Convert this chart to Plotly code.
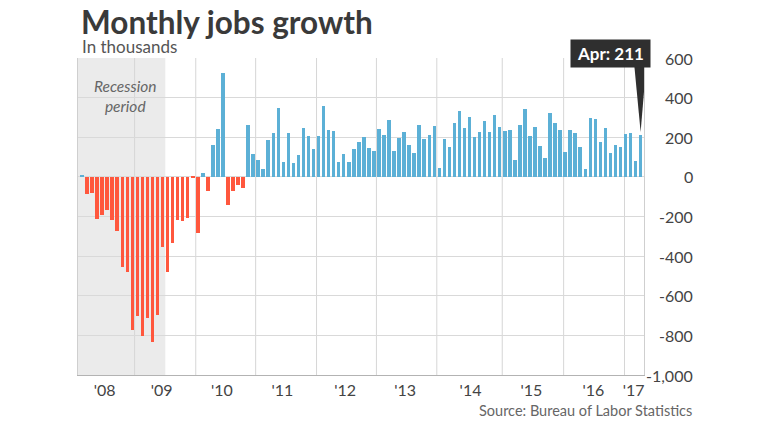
import plotly.graph_objects as go

# ---- data (thousands of jobs, monthly change, Jan 2008 .. Apr 2017) ----
jobs_2008 = [12, -88, -80, -215, -190, -168, -219, -271, -456, -481, -775, -703]
jobs_2009 = [-803, -710, -834, -698, -354, -478, -334, -219, -225, -210, -5, -281]
jobs_2010 = [19, -71, 161, 242, 525, -141, -71, -41, -56, 261, 117, 85]
jobs_2011 = [41, 188, 224, 347, 75, 224, 68, 108, 247, 207, 141, 207]
jobs_2012 = [359, 237, 232, 76, 114, 73, 142, 176, 202, 144, 131, 244]
jobs_2013 = [210, 286, 129, 197, 225, 161, 120, 261, 190, 212, 258, 46]
jobs_2014 = [190, 149, 273, 331, 246, 303, 200, 229, 281, 225, 312, 254]
jobs_2015 = [234, 237, 85, 261, 344, 205, 254, 154, 97, 322, 271, 237]
jobs_2016 = [124, 237, 224, 151, 41, 297, 290, 175, 249, 122, 163, 153]
jobs_2017 = [216, 219, 79, 211]

values = (jobs_2008 + jobs_2009 + jobs_2010 + jobs_2011 + jobs_2012 +
          jobs_2013 + jobs_2014 + jobs_2015 + jobs_2016 + jobs_2017)
month_index = list(range(len(values)))

year_labels = ["'08", "'09", "'10", "'11", "'12", "'13", "'14", "'15", "'16", "'17"]
year_label_pos = [4.5, 15.8, 27.8, 39.8, 52.3, 64.2, 77.2, 89.3, 101.6, 109.6]
year_grid_pos = [10.45, 22.6, 34.5, 46.6, 58.5, 70.5, 83.5, 95.7, 107.8]
y_ticks = [600, 400, 200, 0, -200, -400, -600, -800, -1000]
recession_end = 16.55
last_label = "Apr: 211"

BLUE = "#5cb0d6"
RED = "#ff573d"
colors = [BLUE if v >= 0 else RED for v in values]

# page geometry (pixels); the page body has an 8px margin
PAGE_W, PAGE_H, OFF = 768, 432, 8
L, R, T, B = 78, 644, 58, 375          # plot area in page pixels
X_RANGE = [-0.8, 111.67]

def px_x(p):
    return (p - L) / (R - L)

def px_y(p):
    return (B - p) / (B - T)

fig = go.Figure()
fig.add_trace(go.Bar(
    x=month_index, y=values, marker_color=colors, marker_line_width=0,
    width=0.7, hoverinfo="y", showlegend=False,
))

shapes = []
shapes.append(dict(type="rect", xref="x", yref="paper", x0=X_RANGE[0], x1=recession_end,
                   y0=0, y1=1, fillcolor="#ebebeb", line_width=0, layer="below"))
for gx in year_grid_pos:
    shapes.append(dict(type="line", xref="x", yref="paper", x0=gx, x1=gx, y0=0, y1=1,
                       line=dict(color="#d6d6d6", width=1), layer="below"))
lx, lv = month_index[-1], values[-1]
shapes.append(dict(type="path", xref="x", yref="y",
                   path=f"M {lx-1.25},560 L {lx+1.1},560 L {lx},{lv+16} Z",
                   fillcolor="#2f2f2f", line_width=0, layer="above"))

annotations = []
annotations.append(dict(text="<b>Monthly jobs growth</b>", xref="paper", yref="paper",
                        x=px_x(79), y=px_y(22), xanchor="left", yanchor="middle",
                        showarrow=False, font=dict(family="Lato", size=31.5, color="#3a3a3a", weight=900)))
annotations.append(dict(text="In thousands", xref="paper", yref="paper",
                        x=px_x(79.5), y=px_y(46.5), xanchor="left", yanchor="middle",
                        showarrow=False, font=dict(family="Lato", size=17, color="#555555")))
annotations.append(dict(text="<i>Recession<br>period</i>", xref="x", yref="paper",
                        x=8.6, y=px_y(96), xanchor="center",
                        yanchor="middle", showarrow=False,
                        font=dict(family="Lato", size=15.5, color="#666666")))
annotations.append(dict(text="Source: Bureau of Labor Statistics", xref="paper", yref="paper",
                        x=px_x(694), y=px_y(410), xanchor="right", yanchor="middle",
                        showarrow=False, font=dict(family="Lato", size=14.5, color="#666666")))
for v in y_ticks:
    annotations.append(dict(text=f"{v:,}", xref="paper", yref="y", x=px_x(695), y=v,
                            xanchor="right", yanchor="middle", showarrow=False,
                            font=dict(family="Lato", size=16, color="#444444")))
annotations.append(dict(text=f"<b>{last_label}</b>", xref="paper", yref="paper",
                        x=px_x(610.5), y=px_y(53.5), xanchor="center", yanchor="middle",
                        showarrow=False, bgcolor="#2f2f2f", width=73, height=21, borderpad=3,
                        font=dict(family="Lato", size=17, color="#ffffff")))

fig.update_layout(
    width=PAGE_W - OFF, height=PAGE_H - OFF,
    margin=dict(l=L - OFF, r=PAGE_W - R, t=T - OFF, b=PAGE_H - B, pad=0),
    paper_bgcolor="white", plot_bgcolor="white",
    bargap=0, shapes=shapes, annotations=annotations,
    xaxis=dict(range=X_RANGE, tickmode="array", tickvals=year_label_pos, ticktext=year_labels,
               showgrid=False, zeroline=False, showline=True, linecolor="#b3b3b3", linewidth=1,
               ticks="", ticklabelstandoff=1,
               tickfont=dict(family="Lato", size=16, color="#444444")),
    yaxis=dict(range=[-1000, 600], tickmode="array", tickvals=y_ticks, showticklabels=False,
               showgrid=True, gridcolor="#d9d9d9", gridwidth=1, zeroline=False,
               showline=True, linecolor="#cfcfcf", mirror=True, ticks=""),
)

fig.write_html("out.html")
